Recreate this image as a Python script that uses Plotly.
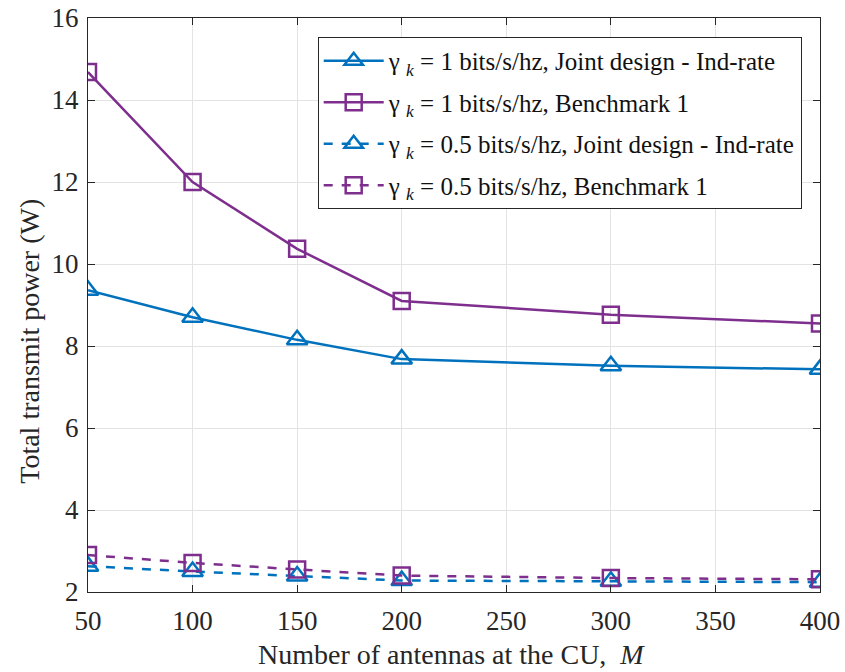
import plotly.graph_objects as go

M = [50, 100, 150, 200, 300, 400]
joint_1 = [9.36, 8.70, 8.15, 7.68, 7.52, 7.43]
bench_1 = [14.68, 12.0, 10.37, 9.10, 8.76, 8.55]
joint_05 = [2.63, 2.50, 2.39, 2.28, 2.26, 2.24]
bench_05 = [2.90, 2.71, 2.55, 2.40, 2.34, 2.31]

names = [
    "γ <sub><i>k</i></sub> = 1 bits/s/hz, Joint design - Ind-rate",
    "γ <sub><i>k</i></sub> = 1 bits/s/hz, Benchmark 1",
    "γ <sub><i>k</i></sub> = 0.5 bits/s/hz, Joint design - Ind-rate",
    "γ <sub><i>k</i></sub> = 0.5 bits/s/hz, Benchmark 1",
]
x_title = "Number of antennas at the CU,  <i>M</i>"
y_title = "Total transmit power (W)"

BLUE = "#0072BD"
PURPLE = "#7E2F8E"
FONT = "Liberation Serif, Times New Roman, serif"

fig = go.Figure()
series = [
    (joint_1, names[0], BLUE, "solid", "triangle-up-open", 18),
    (bench_1, names[1], PURPLE, "solid", "square-open", 16),
    (joint_05, names[2], BLUE, "dash", "triangle-up-open", 18),
    (bench_05, names[3], PURPLE, "dash", "square-open", 16),
]
for i, (y, name, color, dash, sym, size) in enumerate(series):
    fig.add_trace(go.Scatter(
        x=M, y=y, name=name, mode="lines+markers", legendgroup=f"g{i}",
        line=dict(color=color, width=2.5, dash=dash),
        marker=dict(symbol=sym, size=size, color=color, line=dict(width=2.5, color=color)),
    ))

axis_common = dict(
    showline=True, linecolor="#262626", linewidth=1, mirror="ticks",
    ticks="inside", ticklen=7, tickcolor="#262626",
    showgrid=True, gridcolor="#e3e3e3", gridwidth=1,
    zeroline=False, automargin=False,
    tickfont=dict(family=FONT, size=27, color="#262626"),
)

fig.update_layout(
    width=845, height=672,
    margin=dict(l=88, r=25, t=18, b=80),
    paper_bgcolor="white", plot_bgcolor="white",
    font=dict(family=FONT, color="#262626"),
    xaxis=dict(range=[50, 400], tickvals=[50, 100, 150, 200, 250, 300, 350, 400],
               ticklabelstandoff=5, **axis_common),
    yaxis=dict(range=[2, 16], tickvals=[2, 4, 6, 8, 10, 12, 14, 16],
               ticklabelstandoff=3, **axis_common),
    legend=dict(
        x=0.975, y=0.967, xanchor="right", yanchor="top",
        bgcolor="white", bordercolor="#262626", borderwidth=1,
        font=dict(family=FONT, size=25, color="#111111"),
        itemwidth=60, tracegroupgap=6,
    ),
    showlegend=True,
)

fig.add_annotation(text=x_title, xref="paper", yref="paper", x=0.497, y=0,
                   yshift=-62, xanchor="center", yanchor="middle", showarrow=False,
                   font=dict(family=FONT, size=28, color="#262626"))
fig.add_annotation(text=y_title, xref="paper", yref="paper", x=0, y=0.436,
                   xshift=-58, xanchor="center", yanchor="middle", showarrow=False,
                   textangle=-90, font=dict(family=FONT, size=28, color="#262626"))

fig.write_html("out.html")
